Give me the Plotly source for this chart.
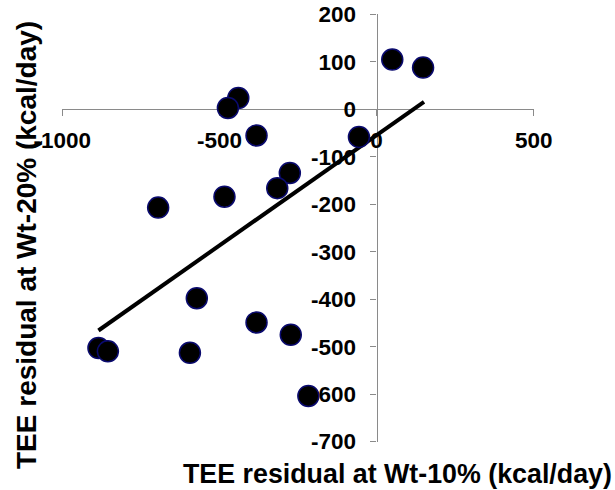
import plotly.graph_objects as go

# residual pairs (kcal/day)
tee_10 = [50, 148, -440, -473, -382, -56, -276, -316, -484, -695,
          -572, -382, -273, -885, -855, -594, -217]
tee_20 = [105, 88, 24, 3, -55, -58, -134, -166, -184, -207,
          -398, -449, -475, -503, -510, -513, -604]

# linear trend line end points
trend_x = [-885, 151]
trend_y = [-466, 16]

x_ticks = [-1000, -500, 0, 500]
y_ticks = [-700, -600, -500, -400, -300, -200, -100, 0, 100, 200]

FONT = "Liberation Sans, Arial, sans-serif"

fig = go.Figure()

fig.add_trace(go.Scatter(
    x=trend_x, y=trend_y, mode="lines",
    line=dict(color="black", width=4),
    hoverinfo="skip",
))

fig.add_trace(go.Scatter(
    x=tee_10, y=tee_20, mode="markers",
    marker=dict(size=21, color="black", line=dict(color="#0a0a6e", width=1.5)),
))

axis_common = dict(
    showline=True, linecolor="#8a8a8a", linewidth=1.2,
    ticks="outside", ticklen=6, tickcolor="#8a8a8a",
    showgrid=False, zeroline=False,
    tickfont=dict(size=22.5, weight="bold", color="black"),
    ticklabeloverflow="allow",
    automargin=False,
    layer="below traces",
)

# plain hyphen labels, as in the original (plotly would use a wide minus)
fig.update_layout(
    width=615, height=490,
    margin=dict(l=62, r=81, t=14, b=48),
    paper_bgcolor="white", plot_bgcolor="white",
    showlegend=False,
    font=dict(family=FONT, color="black"),
    # axes cross at the origin, like the Excel original
    xaxis=dict(
        range=[-1001, 501], tickvals=x_ticks,
        ticktext=[str(v) for v in x_ticks],
        anchor="free", position=701 / 902,
        ticklabelstandoff=5,
        **axis_common,
    ),
    yaxis=dict(
        range=[-701, 201], tickvals=y_ticks,
        ticktext=[str(v) for v in y_ticks],
        anchor="free", position=1001 / 1502,
        ticklabelstandoff=10,
        **axis_common,
    ),
    annotations=[
        dict(text="<b>TEE residual at Wt-10% (kcal/day)</b>",
             xref="paper", yref="paper", x=(614 - 62) / 472, y=(442 - 474) / 428,
             xanchor="right", yanchor="middle", showarrow=False,
             font=dict(size=26.8, family=FONT, color="black")),
        dict(text="<b>TEE residual at Wt-20% (kcal/day)</b>",
             xref="paper", yref="paper", x=(27 - 62) / 472, y=(442 - 245) / 428,
             xanchor="center", yanchor="middle", showarrow=False, textangle=-90,
             font=dict(size=28, family=FONT, color="black")),
    ],
)

# drop the default page margin so the 615x490 figure fills the window
fig.write_html("out.html", config={"displayModeBar": False},
               post_script="document.body.style.margin='0';")
